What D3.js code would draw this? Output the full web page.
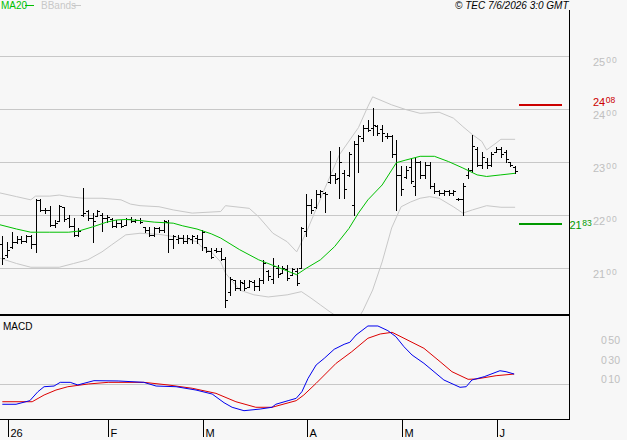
<!DOCTYPE html>
<html>
<head>
<meta charset="utf-8">
<script src="https://cdn.jsdelivr.net/npm/d3@7"></script>
<style>
  body { margin: 0; background: #f7f7f7; }
  svg { display: block; font-family: "Liberation Sans", Arial, sans-serif; }
</style>
</head>
<body>
<div id="chart"></div>
<script>
// Data: daily bars, index 0 = 31 Dec 2025 ... 108 = 5 Jun 2026
const opens = [21.45,21.25,21.40,21.50,21.55,21.52,21.60,21.45,22.28,22.10,
  22.10,21.82,21.90,22.15,21.95,21.80,21.62,22.00,22.08,21.95,
  21.98,22.00,21.95,21.92,21.80,21.85,21.82,21.92,21.90,21.91,
  21.78,21.72,21.62,21.75,21.72,21.88,21.55,21.55,21.58,21.52,
  21.55,21.58,21.55,21.40,21.33,21.35,21.33,21.18,20.55,20.78,
  20.62,20.72,20.65,20.74,20.66,20.78,20.95,20.80,21.00,20.92,
  20.98,20.88,20.95,21.00,21.70,22.20,22.15,22.40,22.42,22.62,
  22.75,22.70,22.80,22.75,22.20,23.35,23.45,23.65,23.65,23.68,
  23.62,23.50,23.50,23.15,22.75,22.72,22.90,22.55,23.00,22.75,
  22.95,22.55,22.45,22.42,22.45,22.42,22.30,22.30,22.75,22.85,
  23.25,22.95,23.00,22.95,23.20,23.25,23.20,23.00,22.90]
const highs = [21.60,21.50,21.69,21.60,21.60,21.62,21.62,22.31,22.31,22.14,
  22.18,21.91,22.19,22.16,22.00,21.94,21.75,22.51,22.10,22.04,
  22.10,22.04,22.00,21.94,21.91,21.91,21.94,21.96,21.93,21.94,
  21.78,21.78,21.78,21.78,21.91,21.91,21.63,21.63,21.63,21.62,
  21.63,21.63,21.72,21.41,21.38,21.38,21.38,21.22,20.84,20.78,
  20.78,20.78,20.78,20.78,20.81,21.16,20.97,21.19,21.06,21.04,
  21.06,21.00,21.00,21.78,22.40,22.31,22.48,22.48,22.43,23.21,
  22.79,23.29,22.85,23.20,23.39,23.52,23.70,23.80,24.02,23.70,
  23.70,23.55,23.52,23.42,22.92,22.92,23.08,23.08,23.02,23.01,
  23.01,22.60,22.48,22.48,22.48,22.48,22.33,22.60,22.89,23.52,
  23.29,23.20,23.08,23.20,23.29,23.29,23.23,23.01,22.92]
const lows = [21.09,21.22,21.38,21.47,21.48,21.50,21.38,21.31,22.08,22.05,
  21.80,21.78,21.90,21.90,21.78,21.60,21.60,21.98,21.91,21.50,
  21.98,21.70,21.88,21.78,21.78,21.78,21.82,21.88,21.87,21.86,
  21.69,21.60,21.60,21.69,21.69,21.30,21.38,21.47,21.47,21.47,
  21.47,21.47,21.35,21.31,21.19,21.31,21.16,20.28,20.50,20.59,
  20.59,20.59,20.66,20.59,20.59,20.72,20.78,20.72,20.84,20.91,
  20.78,20.87,20.68,21.00,21.60,22.04,22.13,22.35,22.07,22.60,
  22.60,22.32,22.32,22.73,22.00,22.82,23.39,23.58,23.52,23.52,
  23.39,23.46,23.10,22.10,22.38,22.70,22.60,22.38,22.70,22.70,
  22.51,22.41,22.38,22.38,22.38,22.38,22.28,22.00,22.70,22.82,
  22.92,22.89,22.89,22.92,23.20,23.10,23.01,22.92,22.79]
const closes = [21.20,21.35,21.50,21.55,21.52,21.60,21.45,22.28,22.10,22.10,
  21.82,21.86,22.17,21.92,21.80,21.62,21.70,22.05,21.95,21.90,
  22.08,21.95,21.96,21.80,21.85,21.80,21.92,21.90,21.91,21.88,
  21.72,21.62,21.75,21.72,21.90,21.55,21.60,21.58,21.52,21.58,
  21.60,21.55,21.68,21.33,21.22,21.33,21.18,20.40,20.80,20.62,
  20.75,20.62,20.76,20.66,20.78,21.10,20.85,21.05,20.90,21.00,
  20.82,20.98,20.72,21.75,22.20,22.10,22.40,22.45,22.40,22.75,
  22.68,23.00,22.50,23.15,23.35,23.50,23.65,23.60,23.70,23.55,
  23.55,23.50,23.15,22.75,22.50,22.85,22.65,23.00,22.75,22.95,
  22.55,22.45,22.42,22.45,22.42,22.45,22.31,22.55,22.85,23.30,
  22.95,23.10,22.95,23.15,23.25,23.15,23.05,22.95,22.83]

// [bar index, value]
const ma20 = [[-0.5,21.82],[3,21.74],[6,21.68],[10,21.68],[14,21.68],[16,21.70],[19,21.78],[22,21.87],[24,21.91],[26,21.92],[29,21.90],[32,21.87],[36,21.85],[38,21.80],[41,21.74],[44,21.65],[46,21.57],[50,21.35],[54,21.16],[58,21.02],[60,20.95],[62,20.88],[64,21.0],[67,21.16],[70,21.41],[73,21.75],[75,22.04],[77,22.29],[80,22.57],[82,22.85],[83,22.99],[85,23.04],[88,23.11],[91,23.11],[94,23.01],[97,22.89],[100,22.76],[102,22.73],[105,22.76],[108,22.79]]
const bbUpper = [[-0.5,22.42],[3,22.35],[6,22.29],[7,22.36],[10,22.36],[12,22.38],[14,22.35],[17,22.32],[21,22.32],[25,22.29],[27,22.21],[29,22.18],[33,22.16],[36,22.10],[40,22.04],[46,22.07],[47,22.18],[52,22.13],[54,21.97],[57,21.66],[60,21.50],[62,21.31],[64,21.67],[68,22.52],[71,23.14],[75,23.65],[77,24.05],[78,24.23],[82,24.08],[85,23.99],[88,23.92],[92,23.94],[95,23.83],[97,23.67],[99,23.52],[101,23.39],[102,23.23],[104,23.36],[105,23.43],[108,23.43]]
const bbLower = [[-0.5,21.19],[3,21.09],[6,21.02],[12,21.02],[15,21.09],[18,21.16],[21,21.31],[23,21.44],[26,21.63],[29,21.66],[33,21.64],[38,21.57],[41,21.50],[42,21.40],[44,21.31],[46,21.12],[47,20.91],[50,20.59],[53,20.50],[56,20.46],[60,20.50],[63,20.56],[65,20.44],[67,20.31],[69,20.18],[71,20.06],[73,19.99],[75,20.06],[76,20.21],[78,20.59],[80,21.12],[82,21.76],[84,22.16],[86,22.25],[88,22.32],[90,22.35],[92,22.32],[95,22.16],[97,22.04],[99,22.10],[102,22.18],[105,22.15],[108,22.15]]
const macdLine = [[0,-0.213],[2.9,-0.213],[5.8,-0.176],[7.5,-0.084],[8.8,-0.033],[10.9,-0.026],[12.2,0.012],[14.3,0.012],[15.9,-0.015],[17.2,0.002],[19.3,0.029],[24.4,0.026],[29.8,0.012],[32.4,-0.026],[36.6,-0.033],[40.8,-0.067],[44.2,-0.108],[46.7,-0.197],[48.4,-0.244],[50.9,-0.279],[54.3,-0.262],[56.8,-0.244],[57.6,-0.213],[60.2,-0.176],[61.9,-0.152],[63.1,-0.084],[64.4,0.053],[66.1,0.190],[67.8,0.258],[69.9,0.351],[72,0.402],[73.2,0.423],[74.5,0.497],[77,0.590],[79.1,0.590],[81.2,0.542],[82.9,0.480],[84.6,0.377],[86.3,0.292],[88.8,0.207],[90.5,0.138],[93,0.036],[96.4,-0.039],[97.7,-0.033],[98.9,0.036],[101.5,0.070],[104.8,0.131],[106.1,0.121],[107.8,0.097]]
const signalLine = [[0,-0.187],[6.3,-0.187],[8.8,-0.118],[11.3,-0.067],[13.8,-0.033],[18.1,-0.005],[22.3,0.012],[29.8,0.012],[34.9,-0.015],[40,-0.049],[45,-0.101],[49.2,-0.187],[53.4,-0.244],[56.8,-0.244],[61.9,-0.176],[63.5,-0.118],[66.1,0.002],[70.3,0.207],[73.6,0.326],[77,0.464],[79.6,0.508],[82.1,0.525],[84.6,0.464],[88.8,0.361],[92.2,0.224],[94.7,0.121],[98.1,0.043],[99.8,0.046],[104,0.080],[107.8,0.097]]

const priceTicks = [21, 22, 23, 24, 25]
const macdTicks = [0.1, 0.3, 0.5]
const monthIdx = [1, 22, 42, 64, 84, 104]
const monthLabels = ['26', 'F', 'M', 'A', 'M', 'J']
const resistance = 24.08
const support = 21.83

// Dimensions
const width = 627, height = 440
const plotRight = 569
const mainBottom = 314

const svg = d3.select('#chart').append('svg')
  .attr('width', width).attr('height', height)
  .attr('shape-rendering', 'crispEdges')

svg.append('rect').attr('width', width).attr('height', height).attr('fill', '#f7f7f7')

// Scales
const xScale = d3.scaleLinear().domain([0, 108]).range([2.3, 515.1])
const yScale = d3.scaleLinear().domain([21, 25]).range([268.3, 56])
const mScale = d3.scaleLinear().domain([0, 0.5]).range([383.5, 334.75])
const px = v => Math.round(v) + 0.5

svg.append('clipPath').attr('id', 'mainClip')
  .append('rect').attr('x', 0).attr('y', 0).attr('width', plotRight).attr('height', mainBottom)
svg.append('clipPath').attr('id', 'macdClip')
  .append('rect').attr('x', 0).attr('y', 316).attr('width', plotRight).attr('height', 103)

// grid
svg.append('g').selectAll('line').data(priceTicks).join('line')
  .attr('x1', 0).attr('x2', plotRight)
  .attr('y1', d => px(yScale(d))).attr('y2', d => px(yScale(d)))
  .attr('stroke', '#c8c8c8')

const main = svg.append('g').attr('clip-path', 'url(#mainClip)')

const lineGen = d3.line().x(d => xScale(d[0])).y(d => yScale(d[1]))
main.selectAll('.bb').data([bbUpper, bbLower]).join('path')
  .attr('d', lineGen).attr('fill', 'none').attr('stroke', '#c8c8c8')
  .attr('shape-rendering', 'auto')

// OHLC bars
const bars = main.append('g').attr('stroke', '#000').attr('stroke-width', 1)
opens.forEach((o, i) => {
  const x = px(xScale(i))
  bars.append('line').attr('x1', x).attr('x2', x)
    .attr('y1', Math.round(yScale(highs[i]))).attr('y2', Math.round(yScale(lows[i])) + 1)
  bars.append('line').attr('x1', x - 2.5).attr('x2', x)
    .attr('y1', px(yScale(o))).attr('y2', px(yScale(o)))
  bars.append('line').attr('x1', x).attr('x2', x + 2.5)
    .attr('y1', px(yScale(closes[i]))).attr('y2', px(yScale(closes[i])))
})

main.append('path').datum(ma20).attr('d', lineGen)
  .attr('fill', 'none').attr('stroke', '#00c000').attr('shape-rendering', 'auto')

// support / resistance marks
svg.append('line').attr('x1', 519).attr('x2', 562)
  .attr('y1', yScale(resistance)).attr('y2', yScale(resistance))
  .attr('stroke', '#cc0000').attr('stroke-width', 2)
svg.append('line').attr('x1', 519).attr('x2', 562)
  .attr('y1', yScale(support)).attr('y2', yScale(support))
  .attr('stroke', '#009900').attr('stroke-width', 2)

// right price axis labels (cents drawn smaller and raised)
function priceLabel(g, v, x, y, color, spacing) {
  const s = v.toFixed(2).split('.')
  const t = g.append('text').attr('x', x).attr('y', y).attr('fill', color)
  t.append('tspan').attr('font-size', 11).text(s[0])
  t.append('tspan').attr('font-size', 8.5).attr('dx', spacing ? 1 : 0.5).attr('dy', -3)
    .attr('letter-spacing', spacing).text(s[1])
}
const axisG = svg.append('g')
priceTicks.forEach(v => priceLabel(axisG, v, 593, yScale(v) + 9.5, '#c0c0c0', 1))
priceLabel(axisG, resistance, 593, yScale(resistance) + 1.5, '#cc0000', 0)
priceLabel(axisG, support, 569.5, yScale(support) + 4.5, '#009900', 0)

macdTicks.forEach(v => {
  const t = axisG.append('text').attr('x', 601).attr('y', mScale(v) + 9.5)
    .attr('fill', '#c0c0c0').attr('font-size', 10.5)
  t.append('tspan').text('0')
  t.append('tspan').attr('dx', 1.5).text(v.toFixed(2).split('.')[1])
})

// MACD panel
svg.append('line').attr('x1', 0).attr('x2', plotRight)
  .attr('y1', px(mScale(0))).attr('y2', px(mScale(0))).attr('stroke', '#c8c8c8')
const macdG = svg.append('g').attr('clip-path', 'url(#macdClip)')
const mLine = d3.line().x(d => xScale(d[0])).y(d => mScale(d[1]))
macdG.append('path').datum(signalLine).attr('d', mLine)
  .attr('fill', 'none').attr('stroke', '#dd0000').attr('shape-rendering', 'auto')
macdG.append('path').datum(macdLine).attr('d', mLine)
  .attr('fill', 'none').attr('stroke', '#0000ee').attr('shape-rendering', 'auto')

// frames
svg.append('rect').attr('x', 0).attr('y', 314).attr('width', plotRight).attr('height', 2).attr('fill', '#000')
svg.append('line').attr('x1', 0).attr('x2', plotRight + 1).attr('y1', 419.5).attr('y2', 419.5).attr('stroke', '#000')
svg.append('line').attr('x1', plotRight + 0.5).attr('x2', plotRight + 0.5).attr('y1', 10).attr('y2', 420).attr('stroke', '#000')

// month ticks
const ticks = svg.append('g')
monthIdx.forEach((d, k) => {
  const x = px(xScale(d)) + 1
  ticks.append('line').attr('x1', x).attr('x2', x).attr('y1', 420).attr('y2', 437).attr('stroke', '#000')
  ticks.append('text').attr('x', x + 2).attr('y', 437).attr('font-size', 11).attr('fill', '#000').text(monthLabels[k])
})

// legend and titles
svg.append('text').attr('x', 1).attr('y', 9).attr('font-size', 10).attr('fill', '#00c000').text('MA20')
svg.append('line').attr('x1', 25).attr('x2', 34).attr('y1', 5.5).attr('y2', 5.5).attr('stroke', '#00c000')
svg.append('text').attr('x', 41).attr('y', 9).attr('font-size', 10).attr('fill', '#c8c8c8').text('BBands')
svg.append('line').attr('x1', 72).attr('x2', 81).attr('y1', 5.5).attr('y2', 5.5).attr('stroke', '#c8c8c8')
svg.append('text').attr('x', 455).attr('y', 9).attr('font-size', 10).attr('font-style', 'italic')
  .attr('fill', '#000').text('© TEC 7/6/2026 3:0 GMT')
svg.append('text').attr('x', 3).attr('y', 330).attr('font-size', 10).attr('fill', '#000').text('MACD')
</script>
</body>
</html>
